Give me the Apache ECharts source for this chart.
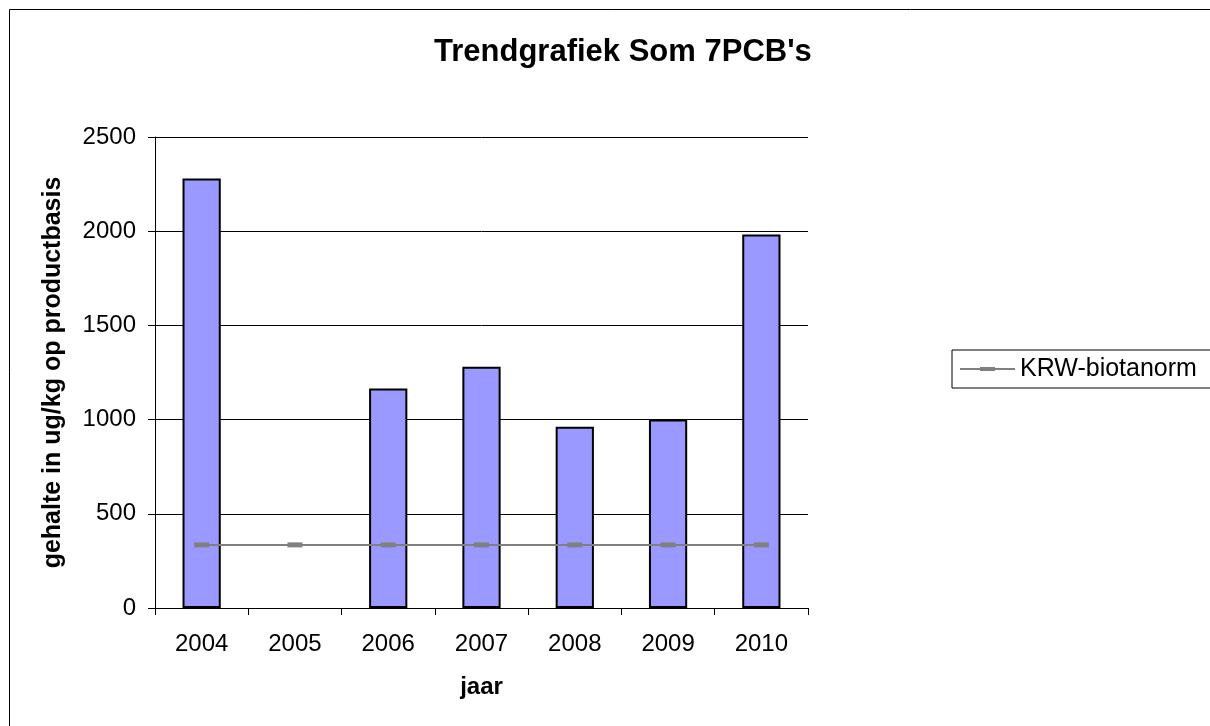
<!DOCTYPE html>
<html>
<head>
<meta charset="utf-8">
<script src="https://cdn.jsdelivr.net/npm/echarts@6/dist/echarts.min.js"></script>
<style>
  html, body { margin: 0; padding: 0; background: #fff; }
  #chart { width: 1210px; height: 726px; }
</style>
</head>
<body>
<div id="chart"></div>
<script>
// jaren en gehaltes (ug/kg op productbasis)
const years = ['2004', '2005', '2006', '2007', '2008', '2009', '2010']
const som7pcb = [2280, null, 1165, 1280, 962, 1000, 1982]
const krwNorm = [335, 335, 335, 335, 335, 335, 335]
const yTicks = { min: 0, max: 2500, interval: 500 }

const chart = echarts.init(document.getElementById('chart'))
const font = 'Arial, "Liberation Sans", sans-serif'

const option = {
  animation: false,
  backgroundColor: '#fff',
  title: {
    text: "Trendgrafiek Som 7PCB's",
    left: 429,
    top: 32,
    textStyle: { fontFamily: font, fontSize: 31, fontWeight: 'bold', color: '#000' }
  },
  graphic: [
    {
      type: 'rect',
      shape: { x: 9.5, y: 9.5, width: 1300, height: 800 },
      style: { fill: 'none', stroke: '#000', lineWidth: 1 }
    }
  ],
  legend: {
    data: [{
      name: 'KRW-biotanorm',
      // lijntje met klein blokje in het midden
      icon: 'path://M0,1 L55,1 L55,3 L0,3 Z M20,0 L35,0 L35,4 L20,4 Z',
      itemStyle: { color: '#808080' }
    }],
    left: 952,
    top: 350,
    orient: 'vertical',
    padding: [5, 20, 5, 8],
    borderColor: '#000',
    borderWidth: 1,
    itemWidth: 55,
    itemHeight: 4,
    textStyle: { fontFamily: font, fontSize: 25, lineHeight: 28, color: '#000' }
  },
  grid: { left: 155, right: 402, top: 137, bottom: 118 },
  xAxis: {
    type: 'category',
    data: years,
    name: 'jaar',
    nameLocation: 'middle',
    nameGap: 67,
    nameTextStyle: { fontFamily: font, fontSize: 24, fontWeight: 'bold', color: '#000' },
    axisLine: { lineStyle: { color: '#000', width: 1 } },
    axisTick: { show: true, length: 7, lineStyle: { color: '#000' } },
    axisLabel: { fontFamily: font, fontSize: 24, color: '#000', margin: 24 },
    splitLine: { show: false }
  },
  yAxis: {
    type: 'value',
    min: yTicks.min,
    max: yTicks.max,
    interval: yTicks.interval,
    name: 'gehalte in ug/kg op productbasis',
    nameLocation: 'middle',
    nameGap: 89,
    nameTextStyle: { fontFamily: font, fontSize: 25, fontWeight: 'bold', color: '#000' },
    axisLine: { show: true, lineStyle: { color: '#000', width: 1 } },
    axisTick: { show: true, length: 7, lineStyle: { color: '#000' } },
    axisLabel: {
      fontFamily: font, fontSize: 24, color: '#000', margin: 19,
      formatter: function (v) { return String(v) }
    },
    splitLine: { show: true, lineStyle: { color: '#000', width: 1 } }
  },
  series: [
    {
      name: 'Som 7PCB',
      type: 'bar',
      data: som7pcb,
      barWidth: '41%',
      itemStyle: { color: '#9999FF', borderColor: '#000', borderWidth: 2 }
    },
    {
      name: 'KRW-biotanorm',
      type: 'line',
      data: krwNorm,
      symbol: 'rect',
      symbolSize: [15, 5],
      showAllSymbol: true,
      lineStyle: { color: '#808080', width: 2 },
      itemStyle: { color: '#808080' }
    }
  ]
}

chart.setOption(option)
</script>
</body>
</html>
